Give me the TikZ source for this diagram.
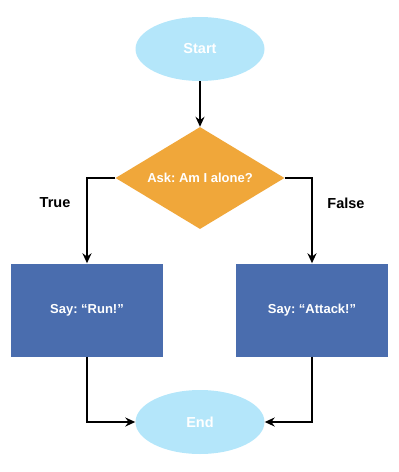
\documentclass[tikz,border=0pt]{standalone}
\usepackage{fontspec}
\setmainfont{Liberation Sans}
\frenchspacing
\usetikzlibrary{shapes.geometric,arrows.meta}
\definecolor{lblue}{HTML}{B4E6FA}
\definecolor{orng}{HTML}{F0A73A}
\definecolor{dblue}{HTML}{4A6DAE}
\begin{document}
\begin{tikzpicture}[x=1pt,y=-1pt,
  term/.style={ellipse,fill=lblue,minimum width=129pt,minimum height=64pt,inner sep=0pt,text=white,font=\bfseries\fontsize{14.5}{16}\selectfont},
  decide/.style={diamond,fill=orng,minimum width=169pt,minimum height=102pt,inner sep=0pt,aspect=1.66,text=white,font=\bfseries\fontsize{13}{15}\selectfont},
  proc/.style={rectangle,fill=dblue,minimum width=152pt,minimum height=93pt,inner sep=0pt,text=white,font=\bfseries\fontsize{13}{15}\selectfont},
  conn/.style={line width=2pt,-{Stealth[length=10pt,width=9pt]}},
  lbl/.style={font=\bfseries\fontsize{14.5}{16}\selectfont,text=black}]
\useasboundingbox (0,0) rectangle (399,472);
\node[term] (start) at (200,49) {Start};
\node[decide] (ask) at (200,178) {Ask: Am I alone?};
\node[proc] (run) at (87,310) {Say: “Run!”};
\node[proc] (attack) at (312,310) {Say: “Attack!”};
\node[term] (end) at (200,422) {End};
\node[lbl] (true) at (55,203) {True};
\node[lbl] (false) at (346,203) {False};
\draw[conn] (start) -- (ask);
\draw[conn] (ask.west) -| (run.north);
\draw[conn] (ask.east) -| (attack.north);
\draw[conn] (run.south) |- (end.west);
\draw[conn] (attack.south) |- (end.east);
\end{tikzpicture}
\end{document}
